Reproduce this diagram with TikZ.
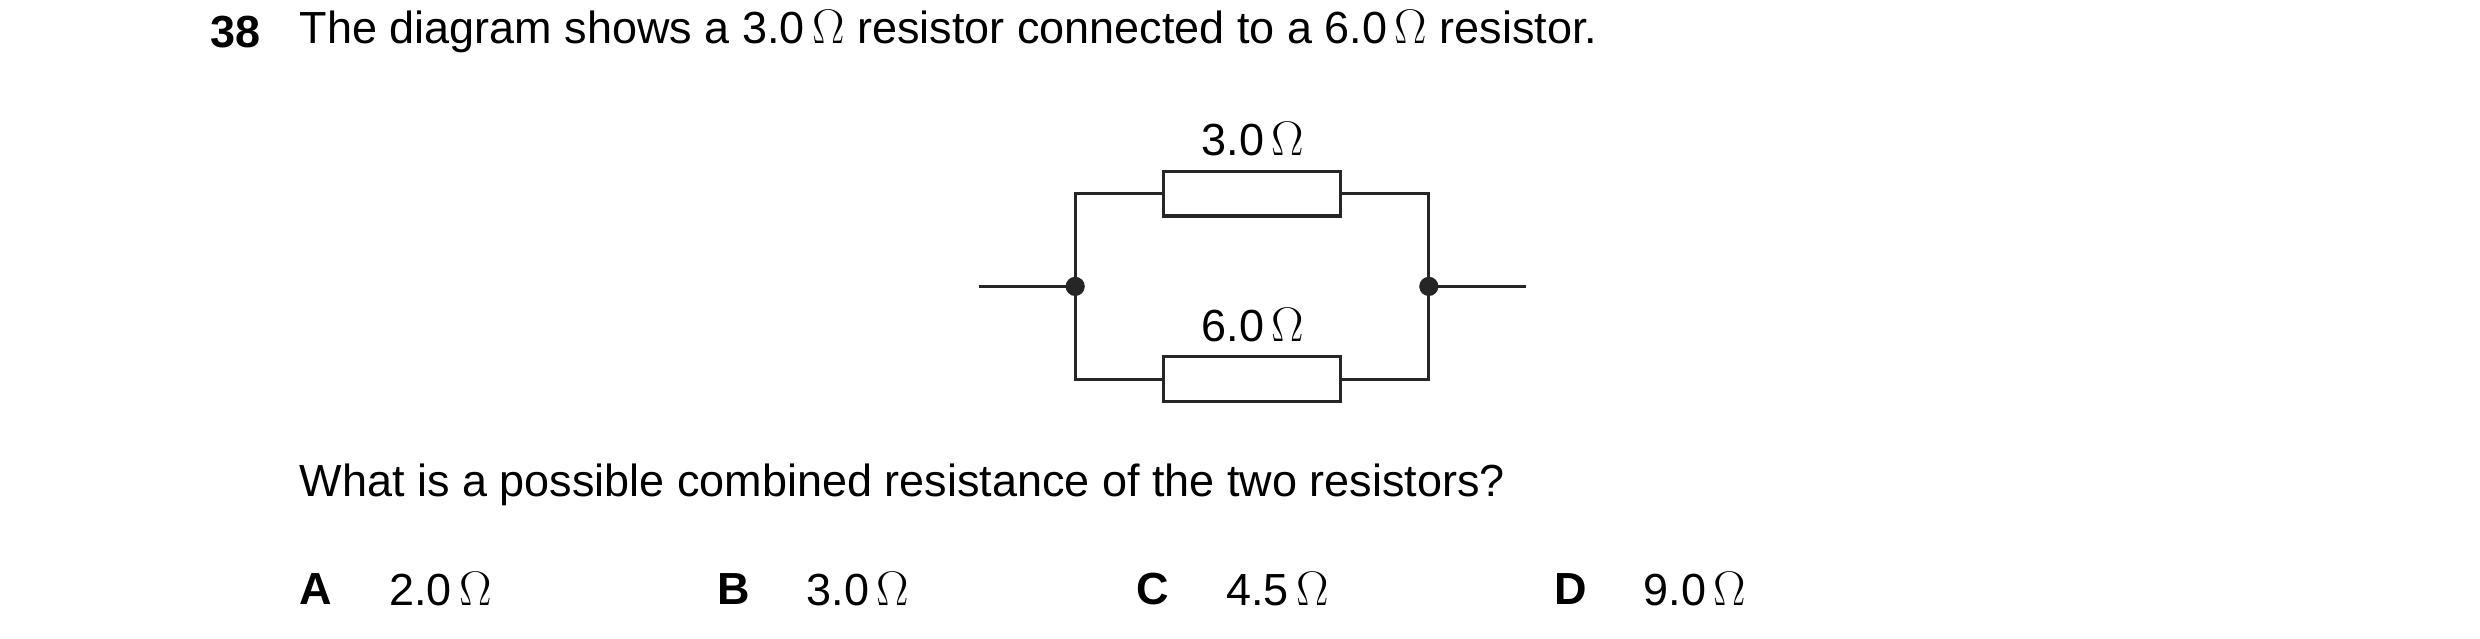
\documentclass[tikz,border=0pt]{standalone}
\usepackage{fontspec}
\setmainfont{Liberation Sans}
\usetikzlibrary{positioning}

\tikzset{
    wire/.style = {line width = 1.1pt, black!85},
    resistor/.style = {draw, line width = 1.1pt, black!85, minimum width = 2.22cm,
        minimum height = 0.56cm, inner sep = 0pt},
    txt/.style = {anchor = west, inner sep = 0pt, font = \fontsize{16}{19}\selectfont},
    dot/.style = {circle, fill = black!85, minimum size = 0.24cm, inner sep = 0pt}
}

\begin{document}
\begin{tikzpicture}[x = 0.02cm, y = -0.02cm]
    \useasboundingbox (0, 0) rectangle (1550, 399);

% The question text.
    \node [txt, font = \fontsize{16}{19}\selectfont\bfseries] (num) at (131, 20) {38};
    \node [txt] (title) at (187, 20) {The diagram shows a 3.0\,$\Omega$ resistor connected to a 6.0\,$\Omega$ resistor.};
    \node [txt] (ask) at (187, 303) {What is a possible combined resistance of the two resistors?};

% The circuit.
    \node [resistor] (rtop) at (782.5, 121) {};
    \node [resistor] (rbot) at (782.5, 237) {};
    \node [txt, anchor = center] (ltop) at (783, 87) {3.0\,$\Omega$};
    \node [txt, anchor = center] (lbot) at (783, 203) {6.0\,$\Omega$};
    \node [dot] (jl) at (672, 179) {};
    \node [dot] (jr) at (893, 179) {};
    \coordinate (inl) at (612, 179);
    \coordinate (inr) at (954, 179);

    \draw [wire] (inl) -- (jl.center);
    \draw [wire] (jr.center) -- (inr);
    \draw [wire] (jl.center) |- (rtop.west);
    \draw [wire] (jl.center) |- (rbot.west);
    \draw [wire] (jr.center) |- (rtop.east);
    \draw [wire] (jr.center) |- (rbot.east);

% The answers.
    \foreach \key/\x/\val in {A/187/2.0, B/448/3.0, C/710/4.5, D/971/9.0} {
        \node [txt, font = \fontsize{16}{19}\selectfont\bfseries] (key\key) at (\x, 368) {\key};
        \node [txt] (val\key) at (\x + 56, 368) {\val\,$\Omega$};
    }
\end{tikzpicture}
\end{document}
